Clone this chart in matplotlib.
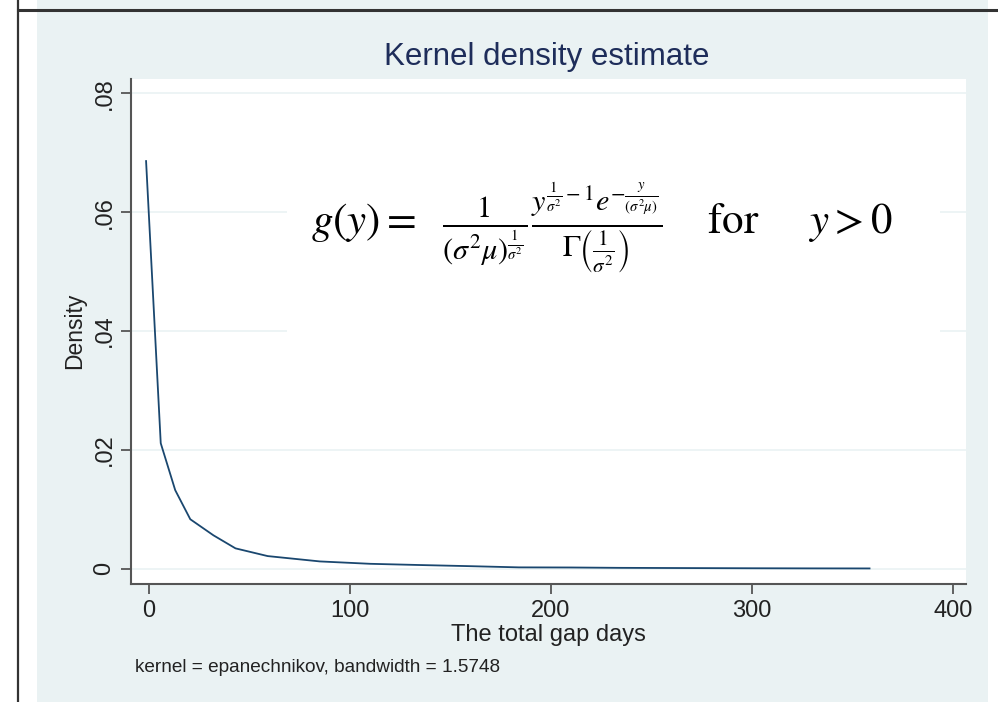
import matplotlib
matplotlib.use("Agg")
import matplotlib.pyplot as plt
from matplotlib.patches import Rectangle
from matplotlib.lines import Line2D

# Kernel density curve
gap_days = [-1.5, 5.8, 13, 20.5, 32, 43, 59, 85, 110, 134, 160, 184, 210,
            234, 270, 300, 330, 358.5]
density = [0.0686, 0.0211, 0.0132, 0.0083, 0.0056, 0.0034, 0.0021, 0.0012,
           0.0008, 0.0006, 0.0004, 0.0002, 0.00018, 0.00012, 0.00008,
           0.00005, 0.00003, 0.00002]

x_ticks = [0, 100, 200, 300, 400]
y_ticks = [0, 0.02, 0.04, 0.06, 0.08]
y_ticklabels = ['0', '.02', '.04', '.06', '.08']

W, H = 998, 702
BG = '#eaf2f3'
NAVY = '#1a476f'

plt.rcParams['font.family'] = ['Liberation Sans', 'DejaVu Sans']
plt.rcParams['mathtext.fontset'] = 'stix'

fig = plt.figure(figsize=(W / 100, H / 100), dpi=100, facecolor='white')


def px(x0, y0, x1, y1):
    """pixel box (top-left origin) -> figure fraction [l, b, w, h]"""
    return [x0 / W, 1 - y1 / H, (x1 - x0) / W, (y1 - y0) / H]


# stata graph region background
fig.patches.append(Rectangle((37 / W, 0), (988 - 37) / W, 1,
                             transform=fig.transFigure, facecolor=BG,
                             edgecolor='none', zorder=-5))
# frame lines of the screenshot
fig.lines.append(Line2D([18 / W, 18 / W], [0, 1], transform=fig.transFigure,
                        color='#333333', lw=1.6, zorder=-4))
fig.lines.append(Line2D([18 / W, 1], [1 - 10 / H, 1 - 10 / H],
                        transform=fig.transFigure, color='#333333', lw=2.2,
                        zorder=-4))

ax = fig.add_axes(px(131, 78.5, 966, 584))
ax.set_zorder(1)
ax.set_facecolor('white')
ax.set_axisbelow(True)

ax.plot(gap_days, density, color=NAVY, lw=1.3, zorder=3)

ax.set_xlim(-9, 406.5)
ax.set_ylim(-0.0026, 0.0825)
ax.set_xticks(x_ticks)
ax.set_yticks(y_ticks)
ax.set_yticklabels(y_ticklabels, rotation=90, va='center')
ax.grid(axis='y', color=BG, lw=1.2)
ax.grid(axis='x', visible=False)

for s in ['top', 'right']:
    ax.spines[s].set_visible(False)
for s in ['left', 'bottom']:
    ax.spines[s].set_color('#555555')
    ax.spines[s].set_linewidth(1.5)
ax.tick_params(length=7.2, width=1.3, color='#555555', labelsize=17,
               labelcolor='#222222', pad=4)

ax.set_xlabel('The total gap days', fontsize=17, color='#222222', va='center')
ax.xaxis.set_label_coords(0.5, (584 - 635) / 505.5)
ax.set_ylabel('Density', fontsize=16.5, color='#222222', va='center')
ax.yaxis.set_label_coords((75 - 131) / 835, 0.5)

# pasted formula image: white box hiding the gridlines
ax.add_patch(Rectangle((287 / W, 1 - 340 / H), (940 - 287) / W, 200 / H,
                       transform=fig.transFigure, facecolor='white',
                       edgecolor='none', zorder=1))
formula = (r'$g(y)=\ \ \frac{1}{(\sigma^2\mu)^{\frac{1}{\sigma^2}}}'
           r'\frac{y^{\frac{1}{\sigma^2}-1}e^{-\frac{y}{(\sigma^2\mu)}}}'
           r'{\Gamma\left(\frac{1}{\sigma^2}\right)}'
           r'\quad\ \mathrm{for}\quad\ \ y>0$')
fig.text(602 / W, 1 - 228 / H, formula, ha='center', va='center',
         fontsize=31, color='black', zorder=5)

fig.text(547 / W, 1 - 57 / H, 'Kernel density estimate', ha='center',
         va='center', fontsize=22.5, color='#1e2d5a')
fig.text(135 / W, 1 - 668 / H, 'kernel = epanechnikov, bandwidth = 1.5748',
         ha='left', va='center', fontsize=13.7, color='#222222')

fig.savefig('out.png', dpi=100, facecolor='white')
